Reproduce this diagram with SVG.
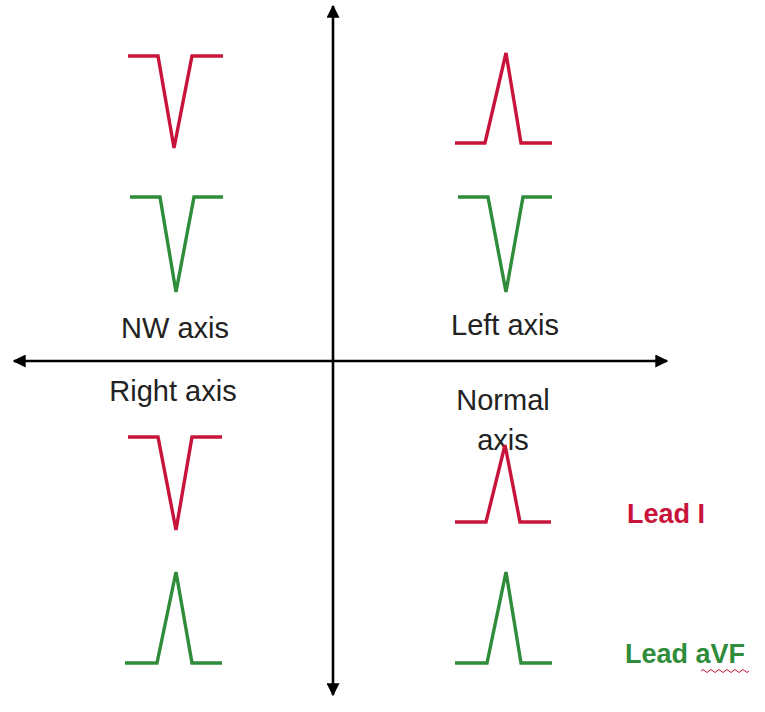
<svg xmlns="http://www.w3.org/2000/svg" width="765" height="712" viewBox="0 0 765 712">
<defs>
<marker id="ah" viewBox="0 0 10 10" refX="9" refY="5" markerWidth="5" markerHeight="5" orient="auto-start-reverse" markerUnits="strokeWidth">
<path d="M0,0 L10,5 L0,10 z" fill="#000"/>
</marker>
<style>
.axis{stroke:#000;stroke-width:2.6;fill:none}
.lbl{font-family:"Liberation Sans",Arial,sans-serif;font-size:29px;fill:#222}
.red{stroke:#c8143a;stroke-width:3.4;fill:none;stroke-linejoin:miter}
.grn{stroke:#2f8c3a;stroke-width:3.4;fill:none;stroke-linejoin:miter}
.lead{font-family:"Liberation Sans",Arial,sans-serif;font-size:27px;font-weight:bold}
</style>
</defs>
<rect width="765" height="712" fill="#fff"/>
<g id="connectors">
<line class="axis" x1="333" y1="695" x2="333" y2="6" marker-end="url(#ah)" marker-start="url(#ah)"/>
<line class="axis" x1="14" y1="361" x2="667" y2="361" marker-end="url(#ah)" marker-start="url(#ah)"/>
</g>
<g id="labels">
<text class="lbl" x="175" y="338" text-anchor="middle">NW axis</text>
<text class="lbl" x="505" y="335" text-anchor="middle">Left axis</text>
<text class="lbl" x="173" y="401" text-anchor="middle">Right axis</text>
<text class="lbl" x="503" y="410" text-anchor="middle">Normal</text>
<text class="lbl" x="503" y="450" text-anchor="middle">axis</text>
</g>
<g id="nw-lead1"><path class="red" d="M128,56 H158 L174,148 L192,56 H223"/></g>
<g id="nw-aVF"><path class="grn" d="M130,197 H160 L176,292 L194,197 H223"/></g>
<g id="left-lead1"><path class="red" d="M455,143 H485 L506,53 L521,143 H552"/></g>
<g id="left-aVF"><path class="grn" d="M458,197 H488 L506,292 L523,197 H552"/></g>
<g id="right-lead1"><path class="red" d="M128,437 H158 L176,530 L192,437 H222"/></g>
<g id="right-aVF"><path class="grn" d="M125,663 H157 L176,572 L192,663 H222"/></g>
<g id="normal-lead1"><path class="red" d="M455,522 H486 L505,445 L520,522 H551"/></g>
<g id="normal-aVF"><path class="grn" d="M455,663 H487 L506,572 L521,663 H552"/></g>
<g id="legend-lead1"><text class="lead" x="627" y="523" fill="#c8143a">Lead I</text></g>
<g id="legend-aVF">
<text class="lead" x="625" y="663" fill="#2f8c3a">Lead aVF</text>
<path d="M701,671 q2,-3 4,0 t4,0 t4,0 t4,0 t4,0 t4,0 t4,0 t4,0 t4,0 t4,0 t4,0 t4,0" fill="none" stroke="#c8143a" stroke-width="1"/>
</g>
</svg>
